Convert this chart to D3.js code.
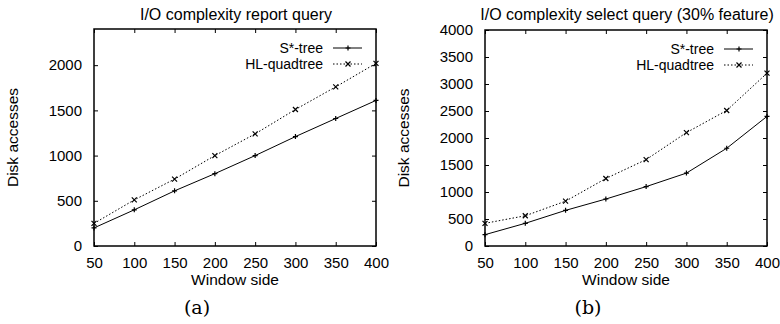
<!DOCTYPE html>
<html>
<head>
<meta charset="utf-8">
<script src="https://cdn.jsdelivr.net/npm/d3@7"></script>
<style>
  body { margin: 0; background: #fff; }
  svg text { font-family: "Liberation Sans", Arial, sans-serif; fill: #000; }
</style>
</head>
<body>
<div id="chart"></div>
<script>
// window sides (x values)
var windowSides = [50, 100, 150, 200, 250, 300, 350, 400];
var seriesNames = ["S*-tree", "HL-quadtree"];

// (a) report query
var reportStree = [200, 400, 610, 800, 1000, 1210, 1410, 1610];
var reportHL = [250, 510, 740, 1000, 1240, 1510, 1760, 2020];
var reportYTicks = [0, 500, 1000, 1500, 2000];

// (b) select query
var selectStree = [210, 420, 660, 870, 1100, 1350, 1810, 2400];
var selectHL = [420, 560, 830, 1250, 1600, 2100, 2510, 3200];
var selectYTicks = [0, 500, 1000, 1500, 2000, 2500, 3000, 3500, 4000];

var svg = d3.select("#chart").append("svg")
  .attr("width", 780).attr("height", 324);

function fixAxis(a) {
  a.attr("font-family", null).attr("font-size", null);
  a.select(".domain").remove();
  a.selectAll(".tick line").attr("stroke", "#000");
  a.selectAll(".tick text").style("font-size", "15px");
}

function panel(opts) {
  var x = d3.scaleLinear().domain([50, 400]).range([opts.left, opts.right]);
  var y = d3.scaleLinear().domain([0, opts.ymax]).range([opts.bottom, opts.top]);
  var g = svg.append("g");

  // inward ticks on all four sides (gnuplot style)
  g.append("g").attr("transform", "translate(0," + opts.bottom + ")")
    .call(d3.axisBottom(x).tickValues(windowSides).tickSize(-4).tickPadding(11).tickSizeOuter(0))
    .call(fixAxis);
  g.append("g").attr("transform", "translate(0," + opts.top + ")")
    .call(d3.axisTop(x).tickValues(windowSides).tickSize(-4).tickFormat("").tickSizeOuter(0))
    .call(fixAxis);
  g.append("g").attr("transform", "translate(" + opts.left + ",0)")
    .call(d3.axisLeft(y).tickValues(opts.yticks).tickSize(-4).tickPadding(12).tickFormat(d3.format("d")).tickSizeOuter(0))
    .call(fixAxis);
  g.append("g").attr("transform", "translate(" + opts.right + ",0)")
    .call(d3.axisRight(y).tickValues(opts.yticks).tickSize(-4).tickFormat("").tickSizeOuter(0))
    .call(fixAxis);

  g.append("rect")
    .attr("x", opts.left).attr("y", opts.top)
    .attr("width", opts.right - opts.left).attr("height", opts.bottom - opts.top)
    .attr("fill", "none").attr("stroke", "#000").attr("stroke-width", 1.5);

  var line = d3.line().x((d, i) => x(windowSides[i])).y(d => y(d));
  var dashes = [null, "1.5,2"];
  [opts.s1, opts.s2].forEach(function (vals, k) {
    g.append("path").datum(vals).attr("d", line)
      .attr("fill", "none").attr("stroke", "#000").attr("stroke-width", 1)
      .attr("stroke-dasharray", dashes[k]);
    marks(g, vals.map((v, i) => [x(windowSides[i]), y(v)]), k);
  });

  // legend
  seriesNames.forEach(function (name, k) {
    var ly = opts.top + 19 + k * 16;
    g.append("text").attr("x", opts.right - 53).attr("y", ly + 5)
      .attr("text-anchor", "end").style("font-size", "14px").text(name);
    g.append("line").attr("x1", opts.right - 43).attr("x2", opts.right - 14)
      .attr("y1", ly).attr("y2", ly).attr("stroke", "#000")
      .attr("stroke-dasharray", dashes[k]);
    marks(g, [[opts.right - 28, ly]], k);
  });

  var cx = (opts.left + opts.right) / 2;
  g.append("text").attr("x", cx + 1).attr("y", 20).attr("text-anchor", "middle")
    .style("font-size", "16px").text(opts.title);
  g.append("text").attr("x", cx).attr("y", 285).attr("text-anchor", "middle")
    .style("font-size", "15.5px").text("Window side");
  g.append("text").attr("transform", "translate(" + (opts.left - 76) + "," + ((opts.top + opts.bottom) / 2) + ") rotate(-90)")
    .attr("text-anchor", "middle").style("font-size", "15.5px").text("Disk accesses");
  g.append("text").attr("x", opts.captionX).attr("y", 314).attr("text-anchor", "middle")
    .style("font-family", "'DejaVu Serif', 'Liberation Serif', serif").style("font-size", "19px")
    .text(opts.caption);
}

function marks(g, pts, k) {
  pts.forEach(function (p) {
    var s = 2.5;
    var path = k === 0
      ? "M" + (p[0] - s) + "," + p[1] + "h" + 2 * s + "M" + p[0] + "," + (p[1] - s) + "v" + 2 * s
      : "M" + (p[0] - s) + "," + (p[1] - s) + "l" + 2 * s + "," + 2 * s + "M" + (p[0] - s) + "," + (p[1] + s) + "l" + 2 * s + "," + (-2 * s);
    g.append("path").attr("d", path).attr("stroke", "#000").attr("stroke-width", 1.2);
  });
}

panel({ left: 94, right: 376, top: 29, bottom: 246, ymax: 2400, yticks: reportYTicks,
  s1: reportStree, s2: reportHL, title: "I/O complexity report query", caption: "(a)", captionX: 197 });
panel({ left: 485, right: 767, top: 30, bottom: 246, ymax: 4000, yticks: selectYTicks,
  s1: selectStree, s2: selectHL, title: "I/O complexity select query (30% feature)", caption: "(b)", captionX: 588 });
</script>
</body>
</html>
